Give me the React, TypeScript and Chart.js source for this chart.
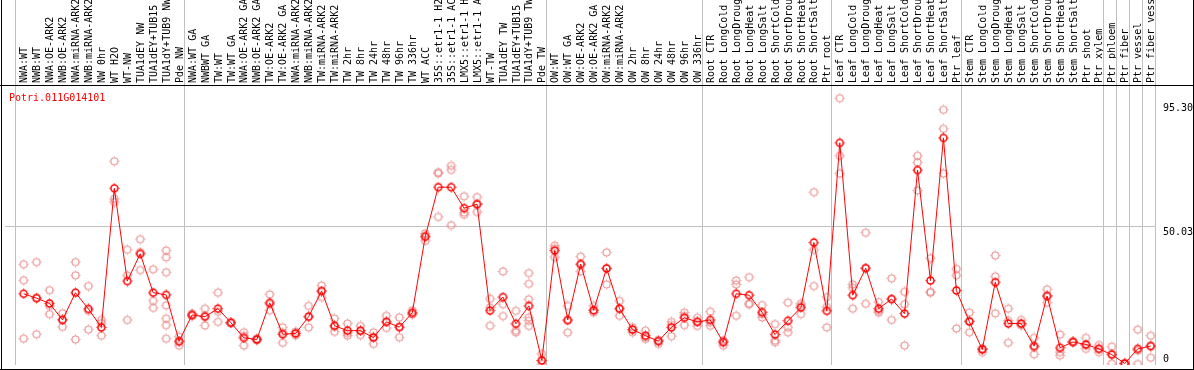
import React, { useEffect, useRef } from "react";
import { Chart, registerables } from "chart.js";

Chart.register(...registerables);

const geneTitle = "Potri.011G014101";

const sampleLabels: string[] = [
  "NWA:WT", "NWB:WT", "NWA:OE-ARK2", "NWB:OE-ARK2", "NWA:miRNA-ARK2", "NWB:miRNA-ARK2",
  "NW 0hr", "WT H2O", "WT-NW", "TUA1dEY NW", "TUA1dEY+TUB15 NW", "TUA1dY+TUB9 NW", "Pde NW",
  "NWA:WT GA", "NWBWT GA", "TW:WT", "TW:WT GA", "NWA:OE-ARK2 GA", "NWB:OE-ARK2 GA",
  "TW:OE-ARK2", "TW:OE-ARK2 GA", "NWA:miRNA-ARK2 GA", "NWB:miRNA-ARK2 GA", "TW:miRNA-ARK2",
  "TW:miRNA-ARK2 GA", "TW 2hr", "TW 8hr", "TW 24hr", "TW 48hr", "TW 96hr", "TW 336hr", "WT ACC",
  "35S::etr1-1 H2O", "35S::etr1-1 ACC", "LMX5::etr1-1 H2O", "LMX5::etr1-1 ACC", "WT-TW",
  "TUA1dEY TW", "TUA1dEY+TUB15 TW", "TUA1dY+TUB9 TW", "Pde TW",
  "OW:WT", "OW:WT GA", "OW:OE-ARK2", "OW:OE-ARK2 GA", "OW:miRNA-ARK2", "OW:miRNA-ARK2 GA",
  "OW 2hr", "OW 8hr", "OW 24hr", "OW 48hr", "OW 96hr", "OW 336hr",
  "Root CTR", "Root LongCold", "Root LongDrought", "Root LongHeat", "Root LongSalt",
  "Root ShortCold", "Root ShortDrought", "Root ShortHeat", "Root ShortSalt", "Ptr root",
  "Leaf CTR", "Leaf LongCold", "Leaf LongDrought", "Leaf LongHeat", "Leaf LongSalt",
  "Leaf ShortCold", "Leaf ShortDrought", "Leaf ShortHeat", "Leaf ShortSalt", "Ptr leaf",
  "Stem CTR", "Stem LongCold", "Stem LongDrought", "Stem LongHeat", "Stem LongSalt",
  "Stem ShortCold", "Stem ShortDrought", "Stem ShortHeat", "Stem ShortSalt", "Ptr shoot",
  "Ptr xylem", "Ptr phloem", "Ptr fiber", "Ptr vessel", "Ptr fiber vessel",
];

const meanValues: number[] = [
  25.5, 23.9, 22.0, 16.0, 25.9, 20.0, 13.3, 63.8, 30.1, 40.0, 25.9, 25.1, 8.3,
  17.8, 17.2, 20.1, 15.0, 9.5, 8.9, 22.2, 10.8, 11.1, 17.2, 26.5, 13.9, 12.1, 12.1, 9.6,
  15.3, 13.4, 18.6, 46.2, 64.2, 64.2, 56.6, 58.0, 19.4, 24.3, 14.6, 21.1, 1.3,
  41.2, 16.0, 36.3, 19.5, 34.7, 20.1, 12.5, 10.3, 8.3, 13.3, 16.8, 15.3,
  16.0, 7.9, 25.5, 25.0, 18.8, 10.7, 15.7, 20.5, 44.1, 19.3,
  80.3, 25.0, 34.8, 20.1, 23.6, 18.3, 70.4, 30.3, 82.1, 26.7,
  15.4, 5.3, 29.7, 14.7, 14.7, 6.5, 24.7, 5.9, 8.0, 7.1, 5.5,
  3.4, 0.2, 5.5, 6.5,
];

const replicateValues: number[][] = [
  [36.2, 30.4, 9.2], [37.0, 24.1, 10.8], [26.8, 21.1, 18.1], [18.4, 16.2, 13.5],
  [37.0, 32.2, 8.9], [28.3, 19.3, 12.5], [16.0, 14.8, 10.3], [73.6, 60.0, 58.8],
  [41.5, 32.2, 16.0], [45.3, 34.1, 40.6], [34.4, 22.9, 20.4],
  [41.2, 38.7, 33.3, 21.3, 16.5, 14.1, 9.2], [9.9, 6.7, 8.0],
  [18.3, 17.7, 17.4], [20.1, 14.0, 17.6], [25.9, 19.0, 15.3], [15.2, 14.8, 15.0],
  [11.5, 6.7, 10.2], [9.3, 8.6, 8.9], [25.3, 19.5, 21.7], [13.3, 7.7, 11.4],
  [11.8, 10.4, 11.1], [21.1, 13.3, 17.2], [28.5, 24.3, 26.5], [16.5, 11.7, 13.5],
  [14.7, 10.3, 11.2], [13.8, 10.5, 12.0], [11.5, 7.3, 9.9], [17.5, 13.1, 15.3],
  [16.9, 9.7, 13.5], [19.5, 18.0, 18.2], [47.4, 44.7, 46.6], [69.6, 69.2, 53.4],
  [72.0, 70.5, 50.4], [60.9, 55.0, 54.2], [60.6, 58.2, 55.2], [23.7, 13.9, 20.5],
  [33.6, 21.7, 17.4], [19.3, 12.1, 11.5], [33.0, 29.1, 23.5, 16.9, 15.7, 13.8],
  [3.7, 1.2, 0],
  [43.0, 38.8, 42.0], [21.1, 11.4, 15.7], [39.0, 33.6, 36.0], [21.1, 18.7, 19.5],
  [40.5, 28.9, 34.7], [22.9, 17.5, 20.1], [13.3, 11.5, 12.5], [12.1, 9.1, 9.7],
  [8.7, 7.3, 8.6], [15.3, 10.1, 14.2], [18.7, 14.1, 17.5], [16.8, 13.8, 15.3],
  [19.0, 13.9, 15.1], [8.5, 6.7, 8.3], [30.3, 28.9, 17.5], [31.5, 21.7, 21.9],
  [21.4, 16.9, 18.1], [14.5, 8.5, 7.9], [22.3, 13.3, 11.5], [21.9, 18.1, 21.1],
  [62.4, 41.4, 28.3], [24.3, 20.7, 13.3],
  [96.5, 75.6, 69.2], [28.9, 27.7, 20.1], [47.7, 34.8, 21.9], [22.5, 19.3, 18.7],
  [31.1, 16.0, 23.6], [26.2, 21.7, 6.7], [75.6, 73.2, 63.0], [38.4, 26.2, 25.9],
  [92.3, 85.4, 69.2], [34.5, 32.2, 12.9],
  [18.7, 11.5, 15.7], [5.6, 4.3, 5.6], [39.4, 31.8, 18.4], [20.1, 15.7, 7.7],
  [16.0, 14.1, 14.5], [9.5, 6.1, 3.5], [27.1, 24.7, 22.3], [10.7, 4.3, 3.1],
  [7.9, 8.3, 7.9], [9.5, 5.5, 6.7], [6.9, 5.5, 4.3],
  [6.3, 0.1, 3.7], [0.4, 0, 0.1], [12.5, 0, 4.9], [10.3, 2.3, 6.7],
];

// last sample index of each group (separator lines drawn after these)
const groupEnds: number[] = [12, 40, 52, 62, 72, 83, 84, 85, 86, 87];
const yTickValues: number[] = [0, 50.03, 95.3];
const yTickLabels: string[] = ["0", "50.03", "95.30"];

const MONO = "'DejaVu Sans Mono', 'Liberation Mono', monospace";

function ringImage(color: string, lw: number): HTMLCanvasElement {
  const c = document.createElement("canvas");
  c.width = 11;
  c.height = 11;
  const g = c.getContext("2d")!;
  g.strokeStyle = color;
  g.fillStyle = color;
  g.lineWidth = lw;
  g.beginPath();
  g.arc(5.5, 5.5, 3.5, 0, Math.PI * 2);
  g.stroke();
  g.fillRect(5, 0.5, 1, 1);
  g.fillRect(5, 9.5, 1, 1);
  g.fillRect(0.5, 5, 1, 1);
  g.fillRect(9.5, 5, 1, 1);
  return c;
}

const decorPlugin = {
  id: "decor",
  beforeDatasetsDraw(chart: any) {
    const { ctx, chartArea, scales } = chart;
    const xs = scales.x;
    const ys = scales.y;
    const W = chart.width;
    const H = chart.height;
    ctx.save();
    ctx.fillStyle = "#c0c0c0";
    const lines = [-0.7, ...groupEnds.map((e) => e + 0.35)];
    lines.forEach((v) => {
      const px = Math.round(xs.getPixelForValue(v));
      ctx.fillRect(px, 0, 1, chartArea.bottom);
    });
    const gy = Math.round(ys.getPixelForValue(yTickValues[1]));
    ctx.fillRect(chartArea.left, gy, chartArea.right - chartArea.left, 1);
    ctx.fillStyle = "#000";
    ctx.fillRect(1, 0, 1, H);
    ctx.fillRect(W - 1, 0, 1, H);
    ctx.fillRect(0, Math.round(chartArea.top), W, 1);
    ctx.fillRect(0, H - 1, W, 1);
    ctx.restore();
  },
  afterDraw(chart: any) {
    const { ctx, chartArea, scales } = chart;
    const ys = scales.y;
    ctx.save();
    ctx.font = "10px " + MONO;
    ctx.textBaseline = "alphabetic";
    ctx.textAlign = "left";
    ctx.fillStyle = "#ff0000";
    ctx.fillText(geneTitle, 9, chartArea.top + 16);
    ctx.fillStyle = "#000";
    yTickValues.forEach((v, i) => {
      const py = ys.getPixelForValue(v);
      const base = v === 0 ? py - 2 : py + 9;
      ctx.fillText(yTickLabels[i], chartArea.right + 7, base);
    });
    ctx.restore();
  },
};

export default function App() {
  const ref = useRef<HTMLCanvasElement | null>(null);

  useEffect(() => {
    if (!ref.current) return;
    const meanImg = ringImage("#ff0000", 1.5);
    const repImg = ringImage("rgba(232,130,130,0.85)", 1.2);
    const meanData = meanValues.map((v, i) => ({ x: i, y: v }));
    const repData: { x: number; y: number }[] = [];
    replicateValues.forEach((reps, i) => reps.forEach((v) => repData.push({ x: i, y: v })));

    const chart = new Chart(ref.current, {
      type: "line",
      data: {
        datasets: [
          {
            label: "mean",
            data: meanData,
            borderColor: "#ff0000",
            borderWidth: 1,
            pointStyle: meanImg as any,
            pointRadius: 4,
            tension: 0,
            order: 0,
          },
          {
            label: "replicates",
            data: repData,
            showLine: false,
            borderColor: "rgba(232,130,130,0.85)",
            pointStyle: repImg as any,
            pointRadius: 4,
            order: 1,
          },
        ],
      },
      options: {
        responsive: false,
        animation: false,
        devicePixelRatio: 1,
        layout: { padding: { left: 1, right: 38, top: 0, bottom: 2 } },
        plugins: { legend: { display: false }, tooltip: { enabled: false }, title: { display: false } },
        scales: {
          x: {
            type: "linear",
            position: "top",
            min: -1.438,
            max: 87.408,
            afterBuildTicks: (s: any) => {
              s.ticks = sampleLabels.map((_, i) => ({ value: i }));
            },
            afterFit: (s: any) => {
              s.height = 85;
            },
            grid: { display: false, drawTicks: false },
            border: { display: false },
            ticks: {
              autoSkip: false,
              minRotation: 90,
              maxRotation: 90,
              padding: 2,
              labelOffset: 13,
              color: "#000",
              font: { family: MONO, size: 10 },
              callback: (v: any) => sampleLabels[v] ?? "",
            },
          },
          y: {
            type: "linear",
            display: false,
            min: -0.36,
            max: 101.3,
          },
        },
      },
      plugins: [decorPlugin],
    });
    return () => chart.destroy();
  }, []);

  return (
    <div style={{ position: "fixed", left: 0, top: 0, width: 1194, height: 370, background: "#fff" }}>
      <canvas ref={ref} width={1194} height={370} style={{ display: "block" }} />
    </div>
  );
}
